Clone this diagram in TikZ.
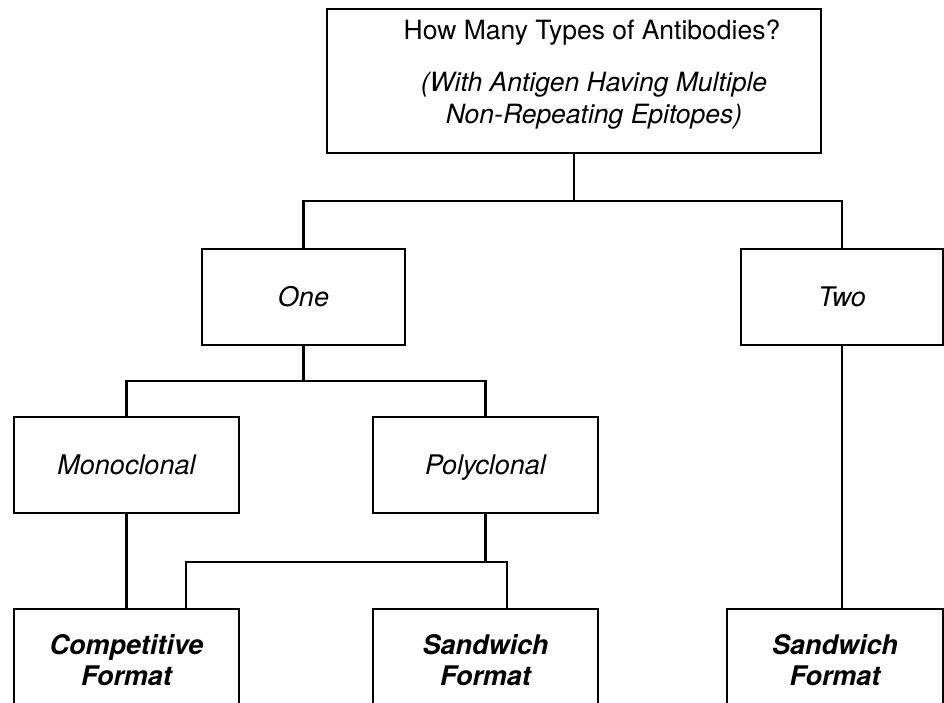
\documentclass[tikz,border=0pt]{standalone}
\usepackage{fontspec}
\setmainfont{TeX Gyre Heros}

\begin{document}
\begin{tikzpicture}[x=1pt,y=-1pt,line width=2.4pt,
        choice/.style={draw,rectangle,inner sep=0pt,minimum height=96pt,
            font=\fontsize{27}{31}\selectfont\itshape,text height=19.5pt,text depth=0pt},
        format/.style={draw,rectangle,inner sep=0pt,minimum height=102pt,align=center,
            font=\fontsize{27}{31}\selectfont\bfseries\itshape},
        heading/.style={anchor=base,inner sep=0pt,font=\fontsize{26.5}{32}\selectfont}]
            \useasboundingbox (0,0) rectangle (944,702);
            \clip (0,0) rectangle (944,702);
            % question box
            \node[draw,inner sep=0pt,minimum width=494pt,minimum height=144pt] (howmany) at (574,81) {};
            \node[heading] (howmanytitle) at (592,39) {How Many Types of Antibodies?};
            \node[heading,font=\fontsize{26.5}{32}\selectfont\itshape] (howmanyline1) at (594,91) {(With Antigen Having Multiple};
            \node[heading,font=\fontsize{26.5}{32}\selectfont\itshape] (howmanyline2) at (594,123) {Non-Repeating Epitopes)};
            % answers
            \node[choice,minimum width=203pt] (one) at (303.5,297) {One};
            \node[choice,minimum width=202pt] (two) at (842,297) {Two};
            \node[choice,minimum width=225pt] (mono) at (126.5,465) {Monoclonal};
            \node[choice,minimum width=225pt] (poly) at (485.5,465) {Polyclonal};
            % assay formats (run off the bottom edge)
            \node[format,minimum width=225pt] (competitive) at (126.5,660) {Competitive\\Format};
            \node[format,minimum width=225pt] (sandwich) at (485.5,660) {Sandwich\\Format};
            \node[format,minimum width=216pt] (twosandwich) at (835,660) {Sandwich\\Format};
            % tree lines
            \coordinate (fork1) at (howmany.south |- 0,201);
            \coordinate (fork2) at (one.south |- 0,381);
            \coordinate (fork3) at (poly.south |- 0,562);
            \draw (howmany.south) -- (fork1);
            \draw (one.north) |- (fork1) -| (two.north);
            \draw (one.south) -- (fork2);
            \draw (mono.north) |- (fork2) -| (poly.north);
            \draw (poly.south) -- (fork3);
            \draw (competitive.north -| 186,0) |- (fork3) -| (sandwich.north -| 507,0);
            \draw (mono.south) -- (competitive.north -| mono.south);
            \draw (two.south) -- (twosandwich.north -| two.south);
        \end{tikzpicture}
\end{document}
